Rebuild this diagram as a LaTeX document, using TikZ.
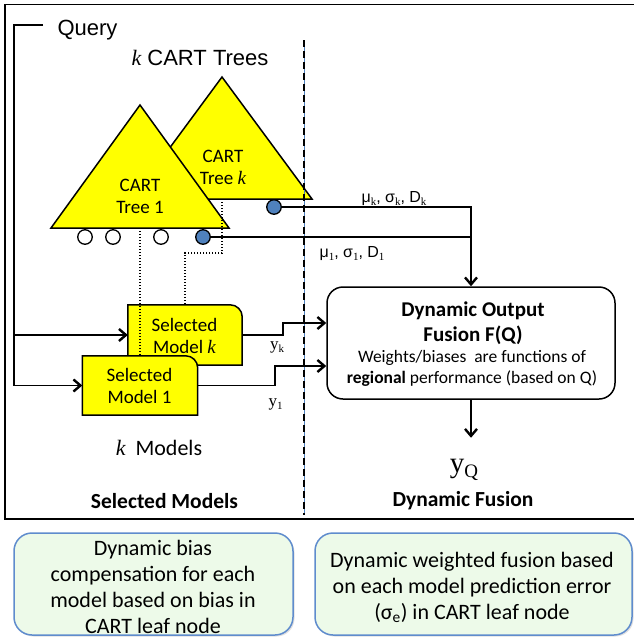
\documentclass[tikz,border=0pt]{standalone}
\usepackage{fontspec}
\setmainfont{Carlito}
\newfontfamily\arialf{Liberation Sans}
\newfontfamily\serif{Liberation Serif}
\usetikzlibrary{arrows.meta,calc,shadows}
\definecolor{ty}{RGB}{255,255,0}
\definecolor{leafblue}{RGB}{79,129,189}
\definecolor{mint}{RGB}{237,250,233}
\definecolor{noteblue}{RGB}{95,140,205}
\newcommand{\kit}{{\serif\itshape k}}
\newcommand{\lsub}[1]{\raisebox{-3pt}{\serif\fontsize{11}{11}\selectfont #1}}
\begin{document}
\begin{tikzpicture}[x=1pt,y=-1pt,
  conn/.style={line width=1.6pt},
  arr/.style={line width=1.6pt,-{Straight Barb[length=7pt,width=12pt,line width=2.4pt]}},
  lbl/.style={inner sep=0pt,anchor=base,align=center},
  tri/.style={fill=ty,draw=black,line width=1.5pt,line join=miter},
  leaf/.style={circle,draw=black,line width=1.3pt,minimum size=14.5pt,inner sep=0pt},
  dots/.style={dash pattern=on 1.2pt off 1.8pt,line width=1.3pt},
  mbox/.style={inner sep=0pt,minimum width=114pt,minimum height=60pt},
  mshape/.style={fill=ty,draw=black,line width=1.5pt},
  notebox/.style={draw=noteblue,fill=mint,line width=1.5pt,rounded corners=18pt,inner sep=0pt,
    drop shadow={opacity=0.25,shadow xshift=1.5pt,shadow yshift=-1.5pt}},
  f22/.style={font=\fontsize{22}{26}\selectfont},
  f19/.style={font=\fontsize{19}{22}\selectfont},
  head/.style={font=\bfseries\fontsize{21.5}{26}\selectfont}
]
\useasboundingbox (0,0) rectangle (634,637);
\clip (0,0) rectangle (634,637);

% outer frame (right side outside the picture)
\draw[line width=1.8pt] (645,4.5) -- (5,4.5) -- (5,519) -- (645,519);

% titles
\node[lbl,font=\arialf\fontsize{22}{26}\selectfont] (query) at (87.5,35) {Query};
\node[lbl,font=\arialf\fontsize{22}{26}\selectfont] (ktrees) at (200,65) {{\serif\itshape k} CART Trees};

% trees
\coordinate (tkl) at (132,199); \coordinate (tka) at (222,77); \coordinate (tkr) at (312,199);
\draw[tri] (tkl) -- (tka) -- (tkr) -- cycle;
\node[lbl,f19] (tktxt) at (223,184) {CART\\Tree \kit};
\coordinate (t1l) at (51,228); \coordinate (t1a) at (140,105); \coordinate (t1r) at (229,228);
\draw[tri] (t1l) -- (t1a) -- (t1r) -- cycle;
\node[lbl,f19] (t1txt) at (140,213) {CART\\Tree 1};

% divider
\draw[line width=0.6pt,leafblue] (304,40) -- (304,515);
\draw[line width=1.2pt,dash pattern=on 7pt off 4pt] (304,40) -- (304,515);

% model k
\node[mbox] (mk) at (185,335) {};
\draw[mshape] (mk.south west) -- (mk.north west) -- ([xshift=-12pt]mk.north east)
  arc[start angle=90,end angle=0,radius=12pt] -- (mk.south east) -- cycle;
\node[lbl,f19] (mktxt) at (184.5,353) {Selected\\Model \kit};

% dotted links from leaves to models
\node[mbox,minimum width=115pt,minimum height=59pt] (m1) at (140,385.5) {};
\draw[dots] ($(t1l)!.5!(t1r)$) -- (m1.north);
\draw[dots] ($(tkl)!.5!(tkr)$) -- ++(0,54) -| (mk.north);

% model 1
\draw[mshape] (m1.south west) -- (m1.north west) -- ([xshift=-12pt]m1.north east)
  arc[start angle=90,end angle=0,radius=12pt] -- (m1.south east) -- cycle;
\node[lbl,f19] (m1txt) at (139.5,403) {Selected\\Model 1};

% leaves
\node[leaf,fill=white] (w1) at (85,237) {};
\node[leaf,fill=white] (w2) at (113,237) {};
\node[leaf,fill=white] (w3) at (161,237) {};
\node[leaf,fill=leafblue] (c1) at (203,237) {};
\node[leaf,fill=leafblue] (ck) at (274,207) {};

% fusion box
\node[draw,line width=1.5pt,rounded corners=16pt,minimum width=288pt,minimum height=112pt,inner sep=0pt] (fusion) at (471,343) {};
\node[lbl,font=\bfseries\fontsize{21}{25}\selectfont] (ft1) at (473,341) {Dynamic Output\\Fusion F(Q)};
\node[lbl,font=\fontsize{17.5}{21}\selectfont] (ft2) at (472,383) {Weights/biases\ \ are functions of\\\textbf{regional} performance (based on Q)};

% connectors
\draw[conn] (c1.east) -- (c1 -| fusion.north);
\draw[arr] (ck.east) -- (ck -| fusion.north) -- (fusion.north);
\coordinate (qs) at (43,25);
\coordinate (qc) at (14,25);
\draw[arr] (qs) -- (qc) |- (m1.west);
\draw[arr] (qc |- mk.west) -- (mk.west);
\draw[arr] (mk.east) -- ++(41,0) |- ([yshift=20pt]fusion.west);
\draw[arr] (m1.east) -- ++(77.5,0) |- ([yshift=-23pt]fusion.west);
\draw[arr] (fusion.south) -- ++(0,38);

% labels
\node[lbl,font=\arialf\fontsize{16}{16}\selectfont] (lk) at (394,202) {μ\lsub{k}, σ\lsub{k}, D\lsub{k}};
\node[lbl,font=\arialf\fontsize{16}{16}\selectfont] (l1) at (352,257) {μ\lsub{1}, σ\lsub{1}, D\lsub{1}};
\node[lbl,font=\serif\fontsize{17}{17}\selectfont] (yk) at (277,349) {y\raisebox{-3pt}{\fontsize{11}{11}\selectfont k}};
\node[lbl,font=\serif\fontsize{17}{17}\selectfont] (y1) at (275.5,406) {y\raisebox{-3pt}{\fontsize{11}{11}\selectfont 1}};
\node[lbl,font=\serif\fontsize{29}{29}\selectfont] (yq) at (464,472) {y\raisebox{-5pt}{\fontsize{19}{19}\selectfont Q}};
\node[lbl,f22] (kmod) at (159,455) {\kit\ \ Models};
\node[lbl,head] (selm) at (164.5,508) {Selected Models};
\node[lbl,head] (dynf) at (463,506) {Dynamic Fusion};

% notes
\node[notebox,minimum width=279pt,minimum height=102pt] (n1) at (153.5,584) {};
\node[lbl,f22] (n1t) at (153,633) {Dynamic bias\\compensation for each\\model based on bias in\\CART leaf node};
\node[notebox,minimum width=317pt,minimum height=102pt] (n2) at (473.5,584) {};
\node[lbl,f22] (n2t) at (472,619) {Dynamic weighted fusion based\\on each model prediction error\\(σ\textsubscript{e}) in CART leaf node};
\end{tikzpicture}
\end{document}
